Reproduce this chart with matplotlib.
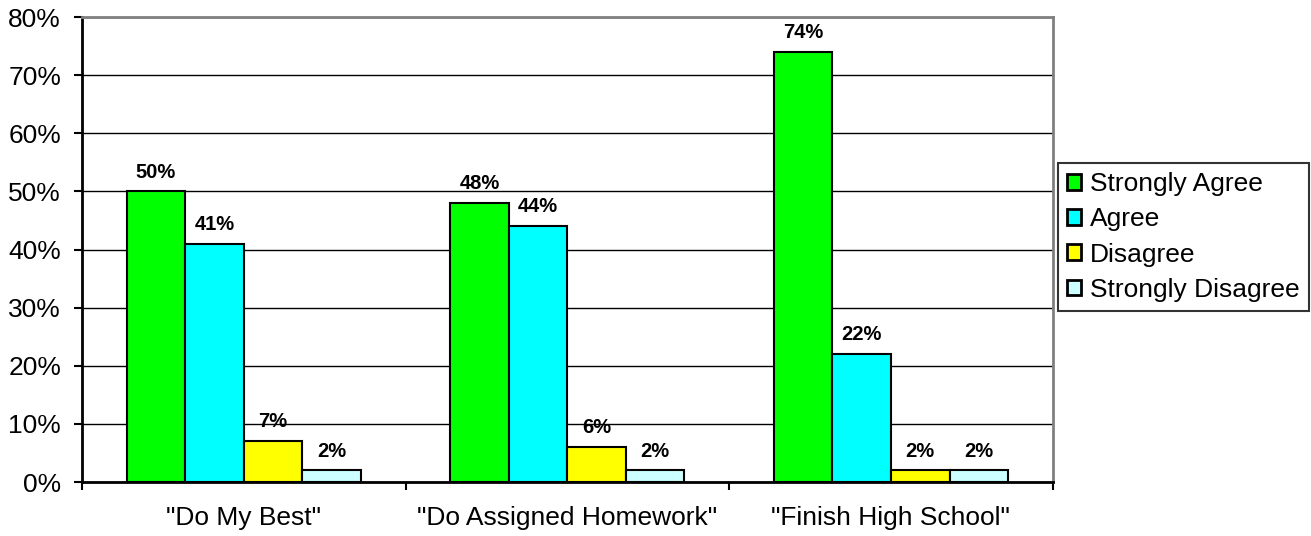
import matplotlib.pyplot as plt
import numpy as np

plt.rcParams['font.family'] = ['Liberation Sans', 'DejaVu Sans']

categories = ['"Do My Best"', '"Do Assigned Homework"', '"Finish High School"']
series_names = ["Strongly Agree", "Agree", "Disagree", "Strongly Disagree"]
strongly_agree = [50, 48, 74]
agree = [41, 44, 22]
disagree = [7, 6, 2]
strongly_disagree = [2, 2, 2]
colors = ["#00FF00", "#00FFFF", "#FFFF00", "#CCFFFF"]

fig = plt.figure(figsize=(13.11, 5.36), dpi=100)
ax = fig.add_axes([0.0625, 0.1007, 0.7405, 0.8673])

x = np.arange(len(categories))
w = 0.181
all_series = [strongly_agree, agree, disagree, strongly_disagree]
for i, (vals, name, col) in enumerate(zip(all_series, series_names, colors)):
    pos = x + (i - 1.5) * w
    bars = ax.bar(pos, vals, width=w, color=col, edgecolor="black", linewidth=1.5,
                  label=name, zorder=3)
    for b, v in zip(bars, vals):
        ax.annotate(f"{v}%", (b.get_x() + b.get_width() / 2, v),
                    xytext=(0, 10), textcoords="offset points",
                    ha="center", va="baseline", fontsize=14.5, fontweight="bold", zorder=4)

ax.set_xlim(-0.5, 2.5)
ax.set_ylim(0, 80)
ax.set_yticks(range(0, 81, 10))
ax.set_yticklabels([f"{t}%" for t in range(0, 81, 10)], fontsize=19)
ax.yaxis.grid(True, color="black", linewidth=1, zorder=0)
ax.set_axisbelow(True)

ax.set_xticks(x)
ax.set_xticklabels(categories, fontsize=19)
ax.tick_params(axis="x", which="major", length=0, pad=17)
ax.set_xticks([-0.5, 0.5, 1.5, 2.5], minor=True)
ax.tick_params(axis="x", which="minor", length=6, width=1.5)
ax.tick_params(axis="y", length=6, width=1.5, pad=9)

ax.spines["left"].set_linewidth(2)
ax.spines["bottom"].set_linewidth(2)
ax.spines["top"].set_color("#808080")
ax.spines["top"].set_linewidth(2)
ax.spines["right"].set_color("#808080")
ax.spines["right"].set_linewidth(2)

leg = ax.legend(loc="center left", bbox_to_anchor=(1.005, 0.527), fontsize=19,
                frameon=True, fancybox=False, edgecolor="black",
                handlelength=0.53, handleheight=0.53, handletextpad=0.34,
                borderpad=0.35, labelspacing=0.42, borderaxespad=0)
leg.get_frame().set_linewidth(1.5)
for patch in leg.get_patches():
    patch.set_linewidth(2)

fig.savefig("out.png", dpi=100)
